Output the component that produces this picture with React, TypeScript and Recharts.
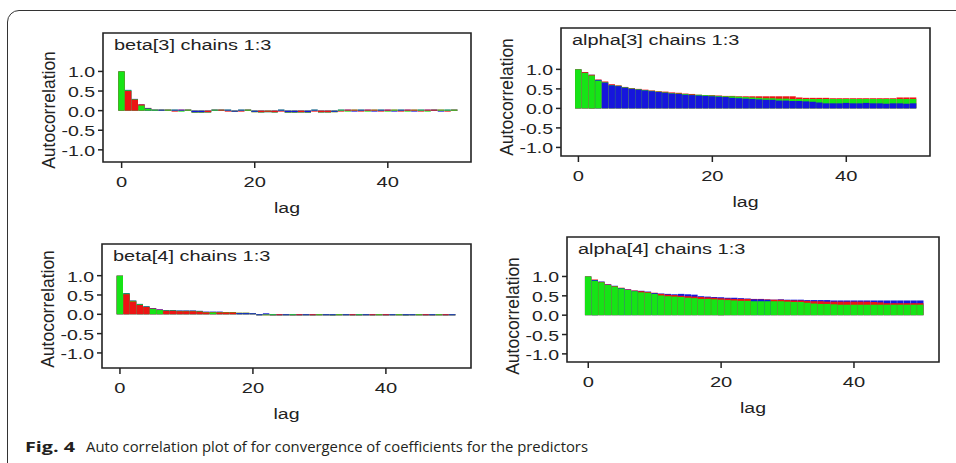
import React from "react";
import { BarChart, Bar, Cell, XAxis, YAxis, ReferenceArea } from "recharts";

// lags 0..50, one bar per chain at each lag
const lags = [
  0, 1, 2, 3, 4, 5, 6, 7, 8, 9, 10, 11, 12, 13, 14, 15, 16, 17, 18, 19, 20, 21, 22, 23, 24, 25,
  26, 27, 28, 29, 30, 31, 32, 33, 34, 35, 36, 37, 38, 39, 40, 41, 42, 43, 44, 45, 46, 47, 48, 49, 50
];
const xTicks = [0, 20, 40];
const yTicks = [-1, -0.5, 0, 0.5, 1];

// beta[3]
const beta3Blue = [
  1.0, 0.53, 0.30, 0.16, 0.06, 0.01, 0.0, 0.01, 0.0, 0.0,
  0.01, -0.04, -0.04, -0.04, 0.0, 0.01, 0.0, -0.01, 0.0, 0.01,
  -0.03, -0.04, -0.04, -0.04, 0.0, -0.04, -0.04, -0.04, -0.04, 0.0,
  -0.04, -0.04, -0.03, 0.0, 0.01, -0.01, 0.0, 0.01, -0.01, 0.0,
  0.0, -0.01, 0.0, 0.01, -0.01, 0.0, 0.01, 0.0, -0.01, 0.0, 0.01
];
const beta3Red = [
  1.0, 0.50, 0.28, 0.16, 0.07, 0.02, 0.01, 0.0, -0.01, 0.01,
  0.0, -0.05, -0.05, -0.04, 0.01, 0.0, -0.01, -0.03, -0.01, 0.0,
  -0.04, -0.04, -0.03, -0.04, -0.01, -0.05, -0.05, -0.04, -0.05, -0.01,
  -0.04, -0.04, -0.04, -0.01, 0.0, 0.0, -0.01, 0.0, 0.0, -0.01,
  0.0, 0.0, -0.01, 0.0, 0.0, -0.01, 0.0, 0.0, 0.0, -0.01, 0.0
];
const beta3Green = [
  1.0, 0.52, 0.29, 0.13, 0.05, 0.01, 0.01, 0.0, 0.01, -0.01,
  0.0, -0.05, -0.05, -0.05, 0.0, 0.01, 0.01, -0.02, 0.01, 0.0,
  -0.04, -0.05, -0.04, -0.05, 0.01, -0.05, -0.05, -0.05, -0.05, 0.01,
  -0.05, -0.05, -0.04, 0.0, -0.01, 0.01, 0.01, -0.01, 0.01, 0.01,
  -0.01, 0.0, 0.01, -0.01, 0.01, 0.0, -0.01, 0.01, 0.0, 0.0, 0.0
];

// alpha[3]
const alpha3Blue = [
  1.0, 0.93, 0.86, 0.73, 0.66, 0.59, 0.57, 0.53, 0.50, 0.48,
  0.46, 0.44, 0.42, 0.40, 0.38, 0.37, 0.35, 0.34, 0.33, 0.32,
  0.31, 0.30, 0.29, 0.27, 0.26, 0.25, 0.24, 0.23, 0.22, 0.22,
  0.20, 0.20, 0.19, 0.19, 0.18, 0.17, 0.15, 0.13, 0.13, 0.13,
  0.14, 0.13, 0.13, 0.14, 0.13, 0.13, 0.12, 0.13, 0.13, 0.12, 0.13
];
const alpha3Red = [
  1.0, 0.93, 0.86, 0.74, 0.69, 0.62, 0.59, 0.55, 0.52, 0.50,
  0.48, 0.46, 0.44, 0.43, 0.41, 0.40, 0.38, 0.37, 0.35, 0.34,
  0.34, 0.33, 0.32, 0.32, 0.31, 0.31, 0.31, 0.31, 0.31, 0.31,
  0.31, 0.31, 0.31, 0.28, 0.27, 0.27, 0.27, 0.27, 0.26, 0.26,
  0.26, 0.26, 0.26, 0.26, 0.26, 0.26, 0.26, 0.26, 0.28, 0.28, 0.28
];
const alpha3Green = [
  1.0, 0.91, 0.84, 0.71, 0.67, 0.60, 0.58, 0.54, 0.51, 0.49,
  0.47, 0.45, 0.43, 0.41, 0.39, 0.38, 0.37, 0.35, 0.35, 0.34,
  0.33, 0.32, 0.31, 0.31, 0.30, 0.29, 0.28, 0.27, 0.26, 0.26,
  0.25, 0.25, 0.24, 0.24, 0.24, 0.24, 0.24, 0.24, 0.24, 0.24,
  0.24, 0.24, 0.24, 0.24, 0.24, 0.24, 0.24, 0.24, 0.24, 0.24, 0.24
];

// beta[4]
const beta4Blue = [
  1.0, 0.55, 0.36, 0.27, 0.21, 0.16, 0.13, 0.11, 0.11, 0.10,
  0.10, 0.10, 0.09, 0.07, 0.07, 0.07, 0.06, 0.06, 0.03, 0.03,
  0.01, -0.01, 0.0, -0.02, -0.02, -0.01, -0.02, -0.02, -0.01, -0.02,
  -0.02, -0.01, -0.02, -0.02, -0.01, -0.02, -0.02, -0.01, -0.02, -0.02,
  -0.02, -0.01, -0.02, -0.02, -0.01, -0.02, -0.02, -0.01, -0.02, -0.02, -0.01
];
const beta4Red = [
  1.0, 0.52, 0.33, 0.24, 0.19, 0.15, 0.12, 0.09, 0.09, 0.08,
  0.08, 0.08, 0.07, 0.05, 0.06, 0.05, 0.05, 0.05, 0.04, 0.04,
  0.02, -0.02, -0.02, -0.03, -0.02, -0.02, -0.03, -0.02, -0.02, -0.02,
  -0.02, -0.02, -0.03, -0.02, -0.02, -0.02, -0.03, -0.02, -0.02, -0.02,
  -0.02, -0.02, -0.02, -0.03, -0.02, -0.02, -0.02, -0.03, -0.02, -0.02, -0.02
];
const beta4Green = [
  1.0, 0.54, 0.35, 0.26, 0.20, 0.14, 0.11, 0.10, 0.10, 0.09,
  0.09, 0.09, 0.08, 0.06, 0.05, 0.06, 0.06, 0.06, 0.04, 0.04,
  0.02, -0.02, -0.01, -0.02, -0.03, -0.02, -0.02, -0.03, -0.02, -0.03,
  -0.01, -0.02, -0.03, -0.01, -0.02, -0.03, -0.01, -0.02, -0.03, -0.01,
  -0.03, -0.02, -0.01, -0.03, -0.02, -0.01, -0.03, -0.02, -0.01, -0.03, -0.02
];

// alpha[4]
const alpha4Blue = [
  1.0, 0.91, 0.87, 0.79, 0.76, 0.70, 0.66, 0.63, 0.63, 0.61,
  0.57, 0.56, 0.55, 0.54, 0.55, 0.54, 0.53, 0.49, 0.48, 0.47,
  0.46, 0.45, 0.45, 0.44, 0.43, 0.41, 0.41, 0.40, 0.40, 0.41,
  0.40, 0.40, 0.40, 0.39, 0.39, 0.39, 0.39, 0.38, 0.38, 0.38,
  0.38, 0.38, 0.38, 0.38, 0.38, 0.38, 0.38, 0.38, 0.38, 0.38, 0.38
];
const alpha4Red = [
  1.0, 0.92, 0.86, 0.80, 0.75, 0.71, 0.67, 0.64, 0.62, 0.60,
  0.58, 0.55, 0.53, 0.52, 0.50, 0.49, 0.48, 0.47, 0.46, 0.45,
  0.44, 0.43, 0.42, 0.42, 0.42, 0.42, 0.42, 0.41, 0.40, 0.40,
  0.39, 0.38, 0.38, 0.37, 0.36, 0.36, 0.35, 0.35, 0.35, 0.35,
  0.35, 0.35, 0.35, 0.34, 0.33, 0.31, 0.31, 0.31, 0.31, 0.31, 0.31
];
const alpha4Green = [
  1.0, 0.89, 0.85, 0.78, 0.74, 0.69, 0.65, 0.62, 0.59, 0.58,
  0.55, 0.51, 0.49, 0.48, 0.47, 0.45, 0.44, 0.42, 0.42, 0.41,
  0.40, 0.39, 0.38, 0.37, 0.37, 0.36, 0.36, 0.36, 0.36, 0.36,
  0.35, 0.34, 0.34, 0.32, 0.30, 0.29, 0.29, 0.28, 0.27, 0.27,
  0.27, 0.27, 0.27, 0.27, 0.27, 0.27, 0.27, 0.27, 0.27, 0.27, 0.27
];

const chainColours = ["#1616dc", "#ec1414", "#16e416"];
const ink = "#222";
const FONT = "'Liberation Sans', Arial, Helvetica, sans-serif";

// BUGS draws the tallest chain first, so the smallest one sits at the bottom
const buildLayers = (chains: number[][]) =>
  lags.map((lag, i) => {
    const s = chains
      .map((c, k) => ({ v: c[i], fill: chainColours[k] }))
      .sort((a, b) => Math.abs(b.v) - Math.abs(a.v));
    return { lag, v0: s[0].v, f0: s[0].fill, v1: s[1].v, f1: s[1].fill, v2: s[2].v, f2: s[2].fill };
  });

const panels = [
  {
    title: "beta[3] chains 1:3",
    chains: [beta3Blue, beta3Red, beta3Green],
    box: { x: 103, y: 33, w: 368, h: 129 },
    xDomain: [-2.8, 52.5],
    yDomain: [-1.31, 1.98],
    yLabelAt: 77
  },
  {
    title: "alpha[3] chains 1:3",
    chains: [alpha3Blue, alpha3Red, alpha3Green],
    box: { x: 561, y: 28, w: 369, h: 128 },
    xDomain: [-2.6, 52.5],
    yDomain: [-1.22, 2.06],
    yLabelAt: 69
  },
  {
    title: "beta[4] chains 1:3",
    chains: [beta4Blue, beta4Red, beta4Green],
    box: { x: 102, y: 244, w: 369, h: 124 },
    xDomain: [-2.7, 52.8],
    yDomain: [-1.39, 1.82],
    yLabelAt: 65
  },
  {
    title: "alpha[4] chains 1:3",
    chains: [alpha4Blue, alpha4Red, alpha4Green],
    box: { x: 567, y: 237, w: 372, h: 125 },
    xDomain: [-3.2, 52.8],
    yDomain: [-1.21, 2.02],
    yLabelAt: 79
  }
];

const YTick = (p: any) => (
  <text
    transform={`translate(${p.x} ${p.y}) scale(1.3 1)`}
    textAnchor="end"
    dy="0.4em"
    fontSize={15}
    fontFamily={FONT}
    fill={ink}
  >
    {Number(p.payload.value).toFixed(1)}
  </text>
);

const XTick = (p: any) => (
  <text
    transform={`translate(${p.x} ${p.y}) scale(1.3 1)`}
    textAnchor="middle"
    dy="0.71em"
    fontSize={15.5}
    fontFamily={FONT}
    fill={ink}
  >
    {p.payload.value}
  </text>
);

const panelText = (title: string, yLabelAt: number) => (props: any) => {
  const { x, y, width, height } = props.viewBox;
  return (
    <g fontFamily={FONT} fill={ink}>
      <text transform={`translate(${x + 11} ${y + 17}) scale(1.33 1)`} fontSize={15}>
        {title}
      </text>
      <text
        transform={`translate(${x + width / 2} ${y + height + 51}) scale(1.3 1)`}
        textAnchor="middle"
        fontSize={15}
      >
        lag
      </text>
      <text
        transform={`translate(${x - 48} ${y + yLabelAt}) rotate(-90)`}
        textAnchor="middle"
        fontSize={17.5}
      >
        Autocorrelation
      </text>
    </g>
  );
};

const AcfPanel = ({ panel }: { panel: any }) => {
  const data = buildLayers(panel.chains);
  const { box } = panel;
  const axisProps = {
    type: "number" as const,
    dataKey: "lag",
    domain: panel.xDomain,
    allowDataOverflow: true,
    ticks: xTicks,
    interval: 0 as const
  };
  return (
    <div style={{ position: "absolute", left: box.x - 100, top: box.y - 5 }}>
      <BarChart
        width={box.w + 110}
        height={box.h + 75}
        data={data}
        margin={{ top: 5, right: 10, bottom: 0, left: 40 }}
      >
        <XAxis
          {...axisProps}
          xAxisId="a"
          height={70}
          axisLine={false}
          tickSize={6}
          tickMargin={8}
          tickLine={{ stroke: ink, strokeWidth: 1.5 }}
          tick={XTick}
        />
        <XAxis {...axisProps} xAxisId="b" hide />
        <XAxis {...axisProps} xAxisId="c" hide />
        <YAxis
          type="number"
          domain={panel.yDomain}
          allowDataOverflow
          ticks={yTicks}
          interval={0}
          width={60}
          axisLine={false}
          tickSize={5}
          tickMargin={3}
          tickLine={{ stroke: ink, strokeWidth: 1.5 }}
          tick={YTick}
        />
        <Bar dataKey="v0" xAxisId="a" barSize={6.4} minPointSize={1} isAnimationActive={false}>
          {data.map((d, i) => (
            <Cell key={`a-${i}`} fill={d.f0} />
          ))}
        </Bar>
        <Bar dataKey="v1" xAxisId="b" barSize={6.4} minPointSize={1} isAnimationActive={false}>
          {data.map((d, i) => (
            <Cell key={`b-${i}`} fill={d.f1} />
          ))}
        </Bar>
        <Bar dataKey="v2" xAxisId="c" barSize={6.4} minPointSize={1} isAnimationActive={false}>
          {data.map((d, i) => (
            <Cell key={`c-${i}`} fill={d.f2} />
          ))}
        </Bar>
        <ReferenceArea
          xAxisId="a"
          x1={panel.xDomain[0]}
          x2={panel.xDomain[1]}
          y1={panel.yDomain[0]}
          y2={panel.yDomain[1]}
          fill="none"
          stroke={ink}
          strokeWidth={1.6}
          label={panelText(panel.title, panel.yLabelAt)}
        />
      </BarChart>
    </div>
  );
};

export default function App() {
  return (
    <div
      style={{
        position: "absolute",
        left: 0,
        top: 0,
        width: 956,
        height: 463,
        overflow: "hidden",
        background: "#fff"
      }}
    >
      <div
        style={{
          position: "absolute",
          left: 7,
          top: 10,
          width: 1000,
          height: 500,
          border: "1px solid #333",
          borderRadius: 12
        }}
      />
      {panels.map((p) => (
        <AcfPanel key={p.title} panel={p} />
      ))}
      <svg width={956} height={40} style={{ position: "absolute", left: 0, top: 428 }}>
        <text
          x={25}
          y={24}
          fontFamily="'Open Sans', 'Noto Sans', sans-serif"
          fontWeight="bold"
          fontSize={15}
          fill="#231f20"
          textLength={50}
          lengthAdjust="spacingAndGlyphs"
        >
          Fig. 4
        </text>
        <text
          x={86}
          y={24}
          fontFamily="'Open Sans', 'Noto Sans', sans-serif"
          fontSize={15}
          fill="#231f20"
          textLength={502}
          lengthAdjust="spacingAndGlyphs"
        >
          Auto correlation plot of for convergence of coefficients for the predictors
        </text>
      </svg>
    </div>
  );
}
